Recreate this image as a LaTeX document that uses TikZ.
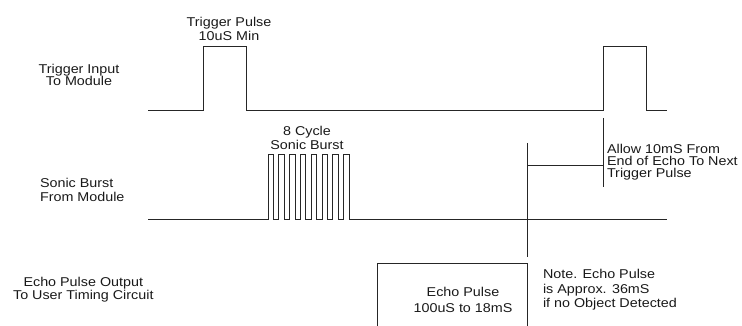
\documentclass[tikz,border=0pt]{standalone}
\usepackage{fontspec}
\setmainfont[FakeStretch=1.12]{Liberation Sans}
\begin{document}
\begin{tikzpicture}[x=1pt,y=-1pt,
  wave/.style={draw=black!85, line width=1pt, line join=miter},
  lbl/.style={inner sep=0pt, outer sep=0pt, text=black!90}]
\useasboundingbox (0,0) rectangle (742,326);
% --- trigger input ---
\draw[wave] (148,111) -- (203,111) -- (203,47) -- (246,47) -- (246,111)
  -- (603,111) -- (603,47) -- (646,47) -- (646,111) -- (667,111);
% --- sonic burst ---
\draw[wave] (148,219) foreach \i in {0,...,7} {
    -- ({268+10.8*\i},219) -- ({268+10.8*\i},155) -- ({273.4+10.8*\i},155) -- ({273.4+10.8*\i},219)
  } -- (667,219);
% --- echo pulse ---
\draw[wave] (377,326) -- (377,263) -- (527,263) -- (527,326);
% --- markers ---
\coordinate (m1top) at (527,143);
\coordinate (m1bot) at (527,257);
\coordinate (m2top) at (603,118);
\coordinate (m2bot) at (603,187);
\coordinate (m1mid) at (527,166);
\coordinate (m2mid) at (603,166);
\draw[wave] (m1top) -- (m1bot);
\draw[wave] (m2top) -- (m2bot);
\draw[wave] (m1mid) -- (m2mid);
% --- texts (base anchor = baseline of last line) ---
\node[lbl, anchor=base, align=center, font=\fontsize{12.8}{14.3}\selectfont] (tp) at (229,41) {Trigger Pulse\\10uS Min};
\node[lbl, anchor=base, align=center, font=\fontsize{12.8}{12.3}\selectfont] (ti) at (79,86) {Trigger Input\\To Module};
\node[lbl, anchor=base, align=center, font=\fontsize{12.8}{14.3}\selectfont] (cb) at (307,150) {8 Cycle\\Sonic Burst};
\node[lbl, anchor=base west, align=left, font=\fontsize{12.8}{14.4}\selectfont] (sb) at (40,201.7) {Sonic Burst\\From Module};
\node[lbl, anchor=base west, align=left, font=\fontsize{12.8}{11.7}\selectfont] (al) at (607,177.3) {Allow 10mS From\\End of Echo To Next\\Trigger Pulse};
\node[lbl, anchor=base, align=center, font=\fontsize{12.8}{13}\selectfont] (eo) at (83.3,299) {Echo Pulse Output\\To User Timing Circuit};
\node[lbl, anchor=base, align=center, font=\fontsize{12.8}{16.7}\selectfont] (ep) at (463,312.7) {Echo Pulse\\100uS to 18mS};
\node[lbl, anchor=base west, align=left, font=\fontsize{12.8}{14.7}\selectfont] (nt) at (543,307.7) {Note. Echo Pulse\\is Approx. 36mS\\if no Object Detected};
\end{tikzpicture}
\end{document}
